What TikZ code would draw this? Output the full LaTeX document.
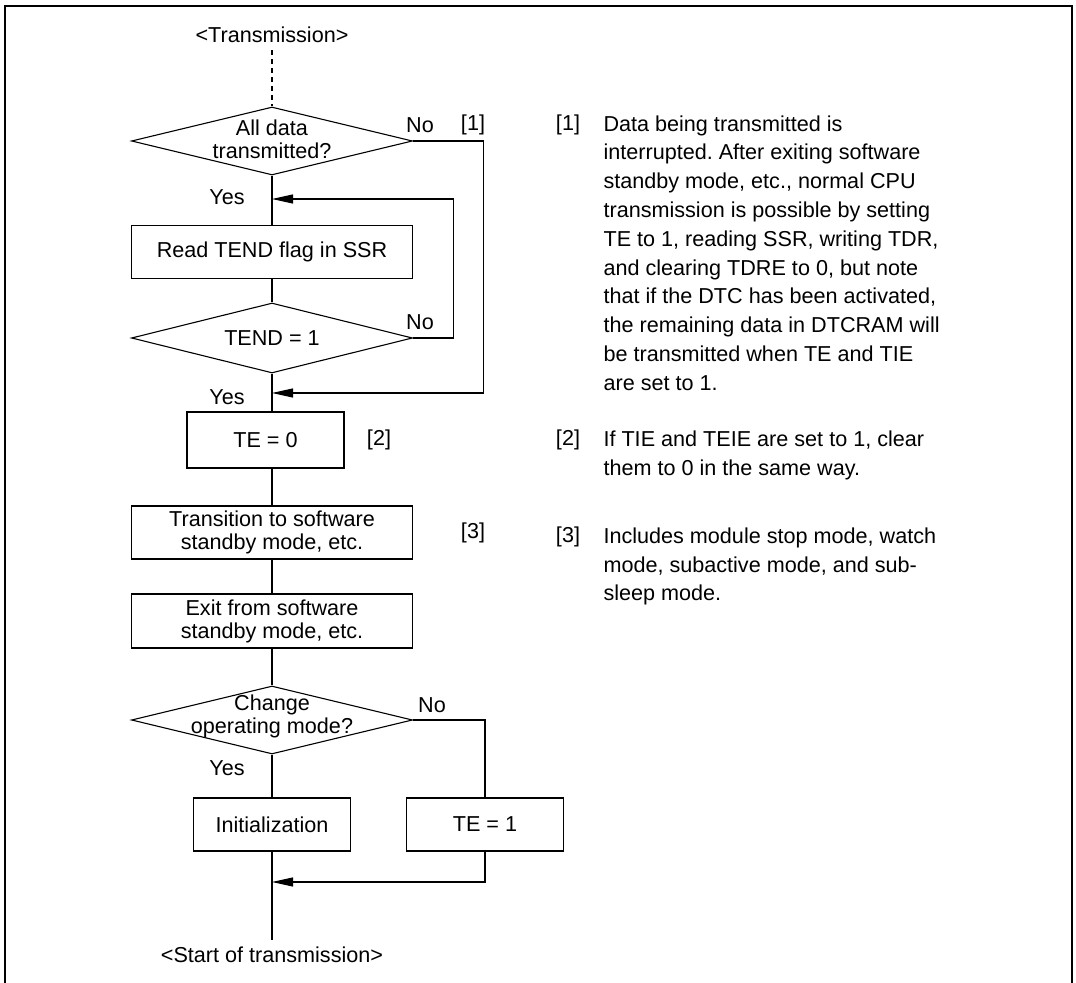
\documentclass[tikz,border=0pt]{standalone}
\usepackage{fontspec}
\setmainfont{Liberation Sans}
\usetikzlibrary{shapes.geometric, arrows.meta}
\frenchspacing

\begin{document}
\begin{tikzpicture}[x=0.5pt, y=-0.5pt, line width=0.55pt,
    font=\fontsize{10.8}{11.5}\selectfont,
    box/.style={draw, rectangle, align=center, inner sep=0pt, minimum width=140.5pt, minimum height=26.5pt},
    smallbox/.style={box, minimum width=78.5pt},
    decision/.style={draw, diamond, inner sep=0pt, minimum width=140.5pt, minimum height=34pt},
    arr/.style={-{Triangle[length=10.5pt, width=4.5pt]}},
    tag/.style={anchor=base},
    note/.style={anchor=north west, align=left, inner sep=0pt, font=\fontsize{10.8}{14.4}\selectfont}]
    \useasboundingbox (0,0) rectangle (1076,983);

    % Frame
    \draw[line width=1pt] (5,983) -- (5,6) -- (1072,6) -- (1072,983);

    % Flow chart
    \node (start) at (272,35) {<Transmission>};
    \node[decision, label={[align=center, yshift=1pt]center:All data\\transmitted?}] (d1) at (272,141) {};
    \node[box] (read) at (272,252) {Read TEND flag in SSR};
    \node[decision, minimum height=35pt, label=center:{TEND = 1}] (d2) at (272,338) {};
    \node[smallbox, minimum height=28pt] (te0) at (265.5,440) {TE = 0};
    \node[box] (trans) at (272,532.5) {Transition to software\\standby mode, etc.};
    \node[box, minimum height=27pt] (exit) at (272,621) {Exit from software\\standby mode, etc.};
    \node[decision, label={[align=center, yshift=2pt]center:Change\\operating mode?}] (d3) at (272,720) {};
    \node[smallbox] (init) at (272,824.5) {Initialization};
    \node[smallbox] (te1) at (485,824.5) {TE = 1};
    \node (finish) at (272,955) {<Start of transmission>};

    % Junctions
    \coordinate (j1) at (272,199);
    \coordinate (j2) at (272,393);
    \coordinate (j3) at (272,882);

    % Connectors
    \draw[dash pattern=on 2.5pt off 2pt] (start.south) -- (d1.north);
    \draw (d1.south) -- (read.north);
    \draw (read.south) -- (d2.north);
    \draw (d2.south) -- (d2.south |- te0.north);
    \draw (trans.north |- te0.south) -- (trans.north);
    \draw (trans.south) -- (exit.north);
    \draw (exit.south) -- (d3.north);
    \draw (d3.south) -- (init.north);
    \draw (init.south) -- (finish.north);
    \draw[arr] (d1.east) -- ++(70.5,0) |- (j2);
    \draw[arr] (d2.east) -- ++(40.5,0) |- (j1);
    \draw (d3.east) -| (te1.north);
    \draw[arr] (te1.south) |- (j3);

    % Yes / No labels
    \node (no1) at (420,125) {No};
    \node (ref1) at (473,125) {[1]};
    \node (yes1) at (227,197) {Yes};
    \node (no2) at (420,322) {No};
    \node (yes2) at (227,397) {Yes};
    \node (ref2) at (379,440) {[2]};
    \node (ref3) at (473,533) {[3]};
    \node (no3) at (432,705) {No};
    \node (yes3) at (227,768) {Yes};

    % Notes
    \node[tag] (n1tag) at (568,131) {[1]};
    \node[note] (n1) at (603,115) {Data being transmitted is\\
      interrupted. After exiting software\\
      standby mode, etc., normal CPU\\
      transmission is possible by setting\\
      TE to 1, reading SSR, writing TDR,\\
      and clearing TDRE to 0, but note\\
      that if the DTC has been activated,\\
      the remaining data in DTCRAM will\\
      be transmitted when TE and TIE\\
      are set to 1.};
    \node[tag] (n2tag) at (568,446) {[2]};
    \node[note] (n2) at (603,430) {If TIE and TEIE are set to 1, clear\\
      them to 0 in the same way.};
    \node[tag] (n3tag) at (568,543) {[3]};
    \node[note] (n3) at (603,527) {Includes module stop mode, watch\\
      mode, subactive mode, and sub-\\
      sleep mode.};
\end{tikzpicture}
\end{document}
